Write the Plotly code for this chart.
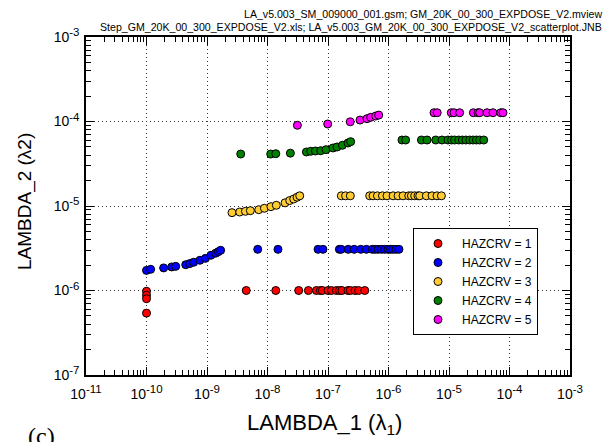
import plotly.graph_objects as go

# HAZCRV = 1
x1 = [1.0e-10, 1.0e-10, 1.0e-10, 1.0e-10, 4.45e-9, 1.37e-8, 3.28e-8, 4.74e-8, 6.43e-8, 7.48e-8,
      8.07e-8, 1.0e-7, 1.14e-7, 1.38e-7, 1.55e-7, 1.70e-7, 2.14e-7, 2.34e-7, 2.8e-7, 3.21e-7, 4.05e-7]
y1 = [9.8e-7, 8.8e-7, 8.0e-7, 5.4e-7, 1.0e-6, 1.0e-6, 1.0e-6, 1.0e-6, 1.0e-6, 1.0e-6,
      1.0e-6, 1.0e-6, 1.0e-6, 1.0e-6, 1.0e-6, 1.0e-6, 1.0e-6, 1.0e-6, 1.0e-6, 1.0e-6, 1.0e-6]

# HAZCRV = 2
x2 = [1.0e-10, 1.17e-10, 1.92e-10, 2.61e-10, 3.04e-10, 4.45e-10, 5.18e-10, 6.03e-10, 7.65e-10,
      9.42e-10, 1.16e-9, 1.39e-9, 1.54e-9, 1.68e-9,
      6.89e-9, 1.49e-8, 6.84e-8, 8.26e-8, 1.54e-7, 1.65e-7, 2.16e-7, 2.71e-7, 3.48e-7, 4.32e-7,
      5.42e-7, 6.0e-7, 6.70e-7, 7.64e-7, 8.65e-7, 9.82e-7, 1.08e-6, 1.19e-6, 1.33e-6, 1.49e-6]
y2 = [1.73e-6, 1.78e-6, 1.85e-6, 1.90e-6, 1.93e-6, 2.02e-6, 2.08e-6, 2.16e-6, 2.28e-6,
      2.40e-6, 2.61e-6, 2.76e-6, 2.88e-6, 2.99e-6,
      3.07e-6, 3.07e-6, 3.07e-6, 3.07e-6, 3.07e-6, 3.07e-6, 3.07e-6, 3.07e-6, 3.07e-6, 3.07e-6,
      3.07e-6, 3.07e-6, 3.07e-6, 3.07e-6, 3.07e-6, 3.07e-6, 3.07e-6, 3.07e-6, 3.07e-6, 3.07e-6]

# HAZCRV = 3
x3 = [2.59e-9, 3.47e-9, 4.32e-9, 5.21e-9, 7.17e-9, 8.89e-9, 1.14e-8, 1.40e-8, 1.95e-8, 2.33e-8,
      2.71e-8, 3.08e-8, 3.41e-8,
      1.66e-7, 1.95e-7, 2.34e-7, 4.89e-7, 5.55e-7, 6.56e-7, 7.93e-7, 9.44e-7, 1.19e-6, 1.44e-6,
      1.74e-6, 2.16e-6, 2.39e-6, 2.71e-6, 3.07e-6, 3.28e-6, 4.23e-6, 5.24e-6, 6.34e-6, 7.49e-6]
y3 = [8.34e-6, 8.49e-6, 8.65e-6, 8.80e-6, 9.04e-6, 9.40e-6, 9.82e-6, 1.02e-5, 1.09e-5, 1.16e-5,
      1.21e-5, 1.27e-5, 1.32e-5,
      1.32e-5, 1.32e-5, 1.32e-5, 1.32e-5, 1.32e-5, 1.32e-5, 1.32e-5, 1.32e-5, 1.32e-5, 1.32e-5,
      1.32e-5, 1.32e-5, 1.32e-5, 1.32e-5, 1.32e-5, 1.32e-5, 1.32e-5, 1.32e-5, 1.32e-5, 1.32e-5]

# HAZCRV = 4
x4 = [3.61e-9, 1.13e-8, 1.37e-8, 2.39e-8, 4.40e-8, 5.18e-8, 6.19e-8, 7.57e-8, 9.27e-8, 1.21e-7,
      1.41e-7, 1.73e-7, 2.14e-7, 2.37e-7,
      1.67e-6, 1.92e-6, 3.50e-6, 4.33e-6, 6.03e-6, 7.66e-6, 9.62e-6, 1.10e-5, 1.24e-5, 1.45e-5,
      1.66e-5, 1.90e-5, 2.20e-5, 2.50e-5, 2.84e-5, 3.21e-5, 3.75e-5]
y4 = [4.12e-5, 4.12e-5, 4.16e-5, 4.22e-5, 4.36e-5, 4.44e-5, 4.48e-5, 4.51e-5, 4.64e-5, 4.86e-5,
      4.99e-5, 5.23e-5, 5.57e-5, 5.77e-5,
      6.04e-5, 6.04e-5, 6.04e-5, 6.04e-5, 6.04e-5, 6.04e-5, 6.04e-5, 6.04e-5, 6.04e-5, 6.04e-5,
      6.04e-5, 6.04e-5, 6.04e-5, 6.04e-5, 6.04e-5, 6.04e-5, 6.04e-5]

# HAZCRV = 5
x5 = [3.12e-8, 9.89e-8, 2.33e-7, 3.38e-7, 4.41e-7, 5.08e-7, 6.14e-7, 6.89e-7,
      5.65e-6, 6.38e-6, 1.09e-5, 1.21e-5, 1.50e-5, 2.53e-5, 3.01e-5, 3.21e-5, 4.25e-5, 5.33e-5,
      7.16e-5, 7.81e-5]
y5 = [9.02e-5, 9.34e-5, 9.92e-5, 1.04e-4, 1.08e-4, 1.12e-4, 1.16e-4, 1.19e-4,
      1.27e-4, 1.27e-4, 1.27e-4, 1.27e-4, 1.27e-4, 1.27e-4, 1.27e-4, 1.27e-4, 1.27e-4, 1.27e-4,
      1.27e-4, 1.27e-4]

names = ["HAZCRV = 1", "HAZCRV = 2", "HAZCRV = 3", "HAZCRV = 4", "HAZCRV = 5"]
colors = ["#FF0000", "#0000FF", "#FFCC33", "#007F00", "#FF00FF"]
series = [(x1, y1), (x2, y2), (x3, y3), (x4, y4), (x5, y5)]

x_exps = list(range(-11, -2))
y_exps = list(range(-7, -2))
SUP = '10<sup><span style="font-size:11.5px">%d</span></sup>'
x_tickvals = [10.0 ** e for e in x_exps]
x_ticktext = [SUP % e for e in x_exps]
y_tickvals = [10.0 ** e for e in y_exps]
y_ticktext = [SUP % e for e in y_exps]

title_line1 = "LA_v5.003_SM_009000_001.gsm; GM_20K_00_300_EXPDOSE_V2.mview"
title_line2 = "Step_GM_20K_00_300_EXPDOSE_V2.xls; LA_v5.003_GM_20K_00_300_EXPDOSE_V2_scatterplot.JNB"

FONT = "Arial, Liberation Sans, sans-serif"

# plot area in pixels (for annotation placement)
L, T, W, H = 86, 37, 484, 338


def px(xp):
    return (xp - L) / W


def py(yp):
    return (T + H - yp) / H


fig = go.Figure()
for (xs, ys), nm, c in zip(series, names, colors):
    fig.add_trace(go.Scatter(
        x=xs, y=ys, mode="markers", name=nm,
        marker=dict(size=8, color=c, line=dict(color="black", width=1)),
    ))

axis_common = dict(
    type="log", showline=True, linecolor="black", linewidth=1.5, mirror="allticks",
    ticks="inside", ticklen=8, tickcolor="black", tickwidth=1,
    showgrid=True, gridcolor="#333333", griddash="1px,3px", gridwidth=1,
    zeroline=False, tickfont=dict(family=FONT, size=14, color="black"),
    minor=dict(ticks="inside", ticklen=5, tickcolor="black", dtick="D1", showgrid=False),
)

fig.update_xaxes(range=[-11, -3], tickvals=x_tickvals, ticktext=x_ticktext,
                 ticklabelstandoff=5, **axis_common)
fig.update_yaxes(range=[-7, -3], tickvals=y_tickvals, ticktext=y_ticktext,
                 ticklabelstandoff=2, **axis_common)

fig.update_layout(
    width=607, height=442,
    margin=dict(l=L, r=607 - L - W, t=T, b=442 - T - H),
    paper_bgcolor="white", plot_bgcolor="white",
    font=dict(family=FONT, color="black"),
    legend=dict(
        x=px(413), y=py(228), xanchor="left", yanchor="top",
        bordercolor="black", borderwidth=1, bgcolor="white",
        font=dict(family=FONT, size=12, color="black"),
        itemwidth=38, entrywidth=128,
    ),
    annotations=[
        dict(text=title_line1, xref="paper", yref="paper", x=px(604), y=py(14),
             xanchor="right", yanchor="middle", showarrow=False,
             font=dict(family=FONT, size=10.6, color="black")),
        dict(text=title_line2, xref="paper", yref="paper", x=px(604), y=py(27),
             xanchor="right", yanchor="middle", showarrow=False,
             font=dict(family=FONT, size=10.6, color="black")),
        dict(text="LAMBDA_1 (λ<sub>1</sub>)", xref="paper", yref="paper", x=px(324), y=py(424),
             xanchor="center", yanchor="middle", showarrow=False,
             font=dict(family=FONT, size=22, color="black")),
        dict(text="LAMBDA_2 (λ2)", xref="paper", yref="paper", x=px(25), y=py(202),
             xanchor="center", yanchor="middle", showarrow=False, textangle=-90,
             font=dict(family=FONT, size=19, color="black")),
        dict(text="(c)", xref="paper", yref="paper", x=px(26), y=py(421),
             xanchor="left", yanchor="top", showarrow=False,
             font=dict(family="Liberation Serif, serif", size=24, color="black")),
    ],
)

fig.write_html("out.html")
